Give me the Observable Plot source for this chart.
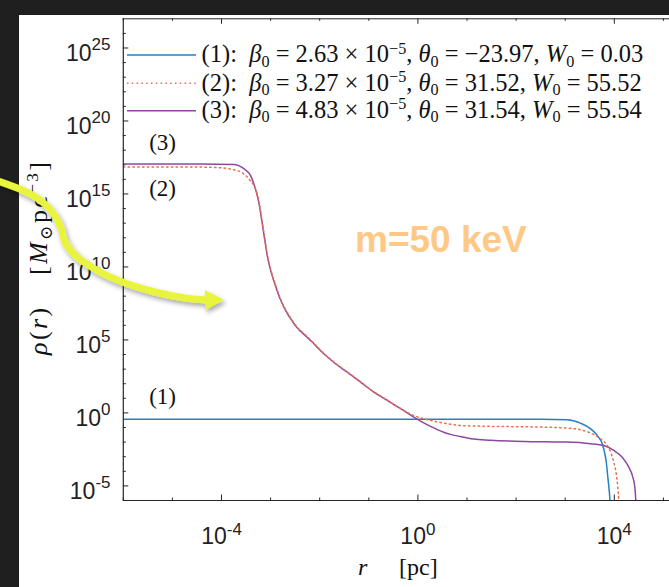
<!DOCTYPE html>
<html><head><meta charset="utf-8">
<script src="https://cdn.jsdelivr.net/npm/d3@7"></script>
<script src="https://cdn.jsdelivr.net/npm/@observablehq/plot@0.6"></script>
<style>
html,body{margin:0;padding:0;background:#1f1f1f;width:669px;height:587px;overflow:hidden}
#panel{position:absolute;left:19px;top:15px;width:650px;height:572px;background:#fff}
#chart{position:absolute;left:0;top:0}
#overlay{position:absolute;left:0;top:0;pointer-events:none}
</style></head><body>
<div id="panel"></div>
<div id="chart"></div>
<svg id="overlay" width="669" height="587" xmlns="http://www.w3.org/2000/svg"></svg>
<script>
// ---------- data (log10 values) ----------
const logR1   = [-6, 2.5, 3.04, 3.311, 3.515, 3.652, 3.754, 3.80, 3.841, 3.868, 3.896, 3.915, 3.93];
const logRho1 = [-0.43, -0.44, -0.47, -0.70, -1.08, -1.54, -2.11, -2.68, -3.48, -4.40, -5.31, -6.2, -7.5];

const logR2   = [-6, -4.43, -4.02, -3.75, -3.578, -3.444, -3.342, -3.273, -3.22, -3.171, -3.124, -3.069, -3.002, -2.90, -2.798, -2.662, -2.56, -2.493, -2.40, -2.324, -2.12, -1.916, -1.678, -1.44, -1.169, -0.898, -0.625, -0.422, -0.287, -0.084, 0.12, 0.324, 0.597, 0.868, 1.479, 2.497, 3.04, 3.311, 3.515, 3.719, 3.855, 3.937, 3.99, 4.039, 4.071, 4.092, 4.11];
const logRho2 = [16.85, 16.84, 16.79, 16.66, 16.45, 16.04, 15.58, 15.01, 14.15, 13.1, 12.05, 10.9, 9.88, 8.78, 7.82, 6.88, 6.36, 6.02, 5.67, 5.45, 4.78, 4.08, 3.4, 2.82, 2.14, 1.45, 0.88, 0.45, 0.17, -0.18, -0.40, -0.56, -0.74, -0.86, -0.92, -0.97, -1.04, -1.15, -1.38, -1.77, -2.23, -2.79, -3.37, -4.16, -5.08, -5.99, -7];

const logR3   = [-6, -4.43, -3.75, -3.546, -3.409, -3.342, -3.273, -3.22, -3.171, -3.124, -3.069, -3.002, -2.90, -2.798, -2.662, -2.56, -2.493, -2.40, -2.324, -2.12, -1.916, -1.678, -1.44, -1.169, -0.898, -0.625, -0.354, -0.084, 0.053, 0.257, 0.527, 0.664, 0.868, 1.004, 1.479, 2.157, 3.04, 3.515, 3.786, 3.99, 4.161, 4.295, 4.377, 4.418, 4.438, 4.45];
const logRho3 = [17.05, 17.06, 17.02, 16.73, 16.27, 15.70, 14.90, 14.05, 13.0, 11.95, 10.8, 9.80, 8.70, 7.75, 6.82, 6.30, 5.96, 5.62, 5.40, 4.74, 4.05, 3.37, 2.79, 2.11, 1.42, 0.86, 0.29, -0.29, -0.56, -0.92, -1.32, -1.47, -1.62, -1.72, -1.88, -1.95, -2.00, -2.11, -2.23, -2.57, -3.03, -3.71, -4.40, -5.08, -5.99, -7];

const xTickExps  = [-4, 0, 4];
const xMinorExps = [-6, -5, -3, -2, -1, 1, 2, 3, 5];
const yTickExps  = [-5, 0, 5, 10, 15, 20, 25];
const yMinorExps = [-6,-4,-3,-2,-1,1,2,3,4,6,7,8,9,11,12,13,14,16,17,18,19,21,22,23,24,26];

const curveLabels   = ["(1)", "(2)", "(3)"];
const curveLabelLR  = [-5.2, -5.2, -5.2];
const curveLabelLRho= [1.10, 15.38, 18.53];

const legendNames  = ["(1):", "(2):", "(3):"];
const legendBeta   = ["2.63", "3.27", "4.83"];
const legendTheta  = ["\u221223.97", "31.52", "31.54"];
const legendW      = ["0.03", "55.52", "55.54"];

const annotation = "m=50 keV";

// ---------- styles ----------
const C1 = "#2381c6", C2 = "#e8704a", C3 = "#8e47a2";
const AX = "#262626";
const SERIF = "Liberation Serif, DejaVu Serif, serif";
const SANS = "Liberation Sans, Arial, sans-serif";
const DOT = "1.5 3.3";

const W = 669, H = 587, mL = 122.8, mR = 0, mT = 18.3, mB = 87;
const plotW = W - mL - mR, plotH = H - mT - mB;
const xMax = Math.pow(10, plotW / 49.1 - 6);

const p10 = e => Math.pow(10, e);
const mk = (lr, lrho) => lr.map((v, i) => ({r: p10(v), rho: p10(lrho[i])}));
const d1 = mk(logR1, logRho1), d2 = mk(logR2, logRho2), d3 = mk(logR3, logRho3);
const labelData = curveLabels.map((t, i) => ({t, r: p10(curveLabelLR[i]), rho: p10(curveLabelLRho[i])}));

const plot = Plot.plot({
  width: W, height: H,
  marginLeft: mL, marginRight: mR, marginTop: mT, marginBottom: mB,
  style: {background: "transparent", overflow: "visible"},
  x: {type: "log", domain: [1e-6, xMax]},
  y: {type: "log", domain: [1e-6, 1e27]},
  marks: [
    Plot.axisX(xTickExps.map(p10), {anchor: "bottom", tickSize: 0, tickPadding: 0, label: null,
      tickFormat: d => "10^" + Math.round(Math.log10(d)), fontSize: 23, fontFamily: SANS, fill: "#222"}),
    Plot.axisY(yTickExps.map(p10), {anchor: "left", tickSize: 0, tickPadding: 12.8, label: null,
      tickFormat: d => "10^" + Math.round(Math.log10(d)), fontSize: 23, fontFamily: SANS, fill: "#222"}),
    // inward ticks
    Plot.tickY(yTickExps.map(p10), {y: d => d, insetRight: plotW - 5.5, stroke: AX}),
    Plot.tickY(yMinorExps.map(p10), {y: d => d, insetRight: plotW - 3, stroke: AX}),
    Plot.tickX(xTickExps.map(p10), {x: d => d, insetTop: plotH - 5.5, stroke: AX}),
    Plot.tickX(xMinorExps.map(p10), {x: d => d, insetTop: plotH - 2.5, stroke: AX}),
    Plot.tickX(xTickExps.map(p10), {x: d => d, insetBottom: plotH - 5.5, stroke: AX}),
    Plot.tickX(xMinorExps.map(p10), {x: d => d, insetBottom: plotH - 2.5, stroke: AX}),
    // curves
    Plot.line(d1, {x: "r", y: "rho", stroke: C1, strokeWidth: 1.5, curve: "monotone-x", clip: true}),
    Plot.line(d3, {x: "r", y: "rho", stroke: C3, strokeWidth: 1.5, curve: "monotone-x", clip: true}),
    Plot.line(d2, {x: "r", y: "rho", stroke: C2, strokeWidth: 1.5, strokeDasharray: DOT, curve: "monotone-x", clip: true}),
    // frame
    Plot.ruleX([1e-6], {stroke: AX, strokeWidth: 1.2}),
    Plot.ruleY([1e-6], {stroke: AX, strokeWidth: 1.2}),
    Plot.ruleY([1e27], {stroke: AX, strokeWidth: 1}),
    // curve labels
    Plot.text(labelData, {x: "r", y: "rho", text: "t", fontFamily: SERIF, fontSize: 23, fill: "#111"})
  ]
});
document.getElementById("chart").appendChild(plot);

// superscript tick labels
const NS = "http://www.w3.org/2000/svg";
function supify(sel, baseY, raise, expSize) {
  plot.querySelectorAll(sel + " text").forEach(t => {
    const [b, e] = t.textContent.split("^");
    t.textContent = "";
    t.setAttribute("y", baseY);
    const a = document.createElementNS(NS, "tspan"); a.textContent = b;
    const c = document.createElementNS(NS, "tspan"); c.textContent = e;
    c.setAttribute("dy", -raise); c.setAttribute("font-size", expSize);
    t.append(a, c);
  });
}
supify('g[aria-label="y-axis tick label"]', 13.4, 11, 17);
supify('g[aria-label="x-axis tick label"]', 43.3, 9, 17);

// ---------- overlay: legend, axis titles, annotation, arrow ----------
const ov = document.getElementById("overlay");
function el(tag, attrs, parent) {
  const e = document.createElementNS(NS, tag);
  for (const k in attrs) if (attrs[k] != null) e.setAttribute(k, attrs[k]);
  (parent || ov).appendChild(e);
  return e;
}
function buildText(segs, o) {
  const t = el("text", {x: o.x, y: o.y, "font-family": o.family, "font-size": o.size, fill: o.fill || "#111",
    "text-anchor": o.anchor || "start", transform: o.transform || null, "letter-spacing": o.ls || null});
  t.style.whiteSpace = "pre";
  let cur = 0;
  for (const [s, k, extra] of segs) {
    const sp = el("tspan", {}, t);
    let target = 0, fs = o.size;
    if (k === "sub") { target = o.size * 0.18; fs = o.size * 0.66; }
    if (k === "sup") { target = -o.size * 0.36; fs = o.size * 0.66; }
    if (k === "i") sp.setAttribute("font-style", "italic");
    sp.setAttribute("font-size", fs);
    if (target !== cur) sp.setAttribute("dy", target - cur);
    if (extra && extra.x != null) sp.setAttribute("x", extra.x);
    cur = target;
    sp.textContent = s;
  }
  return t;
}

// legend
const legColors = [C1, C2, C3], legDash = [null, DOT, null];
const legY = [55, 83.3, 110.7];
const legSegs = i => [[legendNames[i], "n"], ["  ", "n"], ["\u03b2", "i"], ["0", "sub"], [" = " + legendBeta[i] + " \u00d7 10", "n"],
  ["\u22125", "sup"], [", ", "n"], ["\u03b8", "i"], ["0", "sub"], [" = " + legendTheta[i] + ", ", "n"], ["W", "i"], ["0", "sub"], [" = " + legendW[i], "n"]];
let legSize = 21;
{
  const probe = buildText(legSegs(0), {x: 0, y: -100, family: SERIF, size: legSize});
  const w = probe.getComputedTextLength();
  probe.remove();
  legSize = legSize * 442 / w;
}
legY.forEach((y, i) => {
  el("line", {x1: 127, x2: 196, y1: y, y2: y, stroke: legColors[i], "stroke-width": 1.5, "stroke-dasharray": legDash[i]});
  buildText(legSegs(i), {x: 201.6, y: y + legSize * 0.3, family: SERIF, size: legSize});
});

// axis titles
buildText([["r", "i"], ["[pc]", "n", {x: 399}]], {x: 358, y: 575, family: SERIF, size: 24});
buildText([["\u03c1", "i"], ["(", "n"], ["r", "i"], [")", "n"], ["[", "n", {x: -275}], ["M", "i"], ["\u2299", "sub"], ["pc", "n"], ["\u22123", "sup"], ["]", "n"]],
  {x: -355, y: 0, family: SERIF, size: 26, ls: 2.4, transform: "translate(47,0) rotate(-90)"});

// annotation text
el("text", {x: 355, y: 252, "font-family": SANS, "font-weight": "bold", "font-size": 37, fill: "#ffc985"}).textContent = annotation;

// yellow arrow (Catmull-Rom through picked points)
function smoothPath(p) {
  let d = `M${p[0][0]},${p[0][1]}`;
  for (let i = 0; i < p.length - 1; i++) {
    const p0 = p[i - 1] || p[i], p1 = p[i], p2 = p[i + 1], p3 = p[i + 2] || p2;
    const c1 = [p1[0] + (p2[0] - p0[0]) / 6, p1[1] + (p2[1] - p0[1]) / 6];
    const c2 = [p2[0] - (p3[0] - p1[0]) / 6, p2[1] - (p3[1] - p1[1]) / 6];
    d += `C${c1[0]},${c1[1]} ${c2[0]},${c2[1]} ${p2[0]},${p2[1]}`;
  }
  return d;
}
const defs = el("defs", {});
const f = el("filter", {id: "sh", x: "-20%", y: "-20%", width: "140%", height: "140%"}, defs);
el("feDropShadow", {dx: 2, dy: 3, stdDeviation: 2.5, "flood-color": "#000", "flood-opacity": 0.35}, f);
const g = el("g", {filter: "url(#sh)"});
const arrowPts = [[-5,180],[22,190],[40,200],[53,213],[61,228],[65,242],[76,256],[100,272],[125,283],[155,292],[185,298],[208,300]];
el("path", {d: smoothPath(arrowPts), fill: "none", stroke: "#e8f43c", "stroke-width": 7, "stroke-linecap": "butt"}, g);
el("polygon", {points: "205,290 224,300 205,310", fill: "#e8f43c"}, g);
</script>
</body></html>
